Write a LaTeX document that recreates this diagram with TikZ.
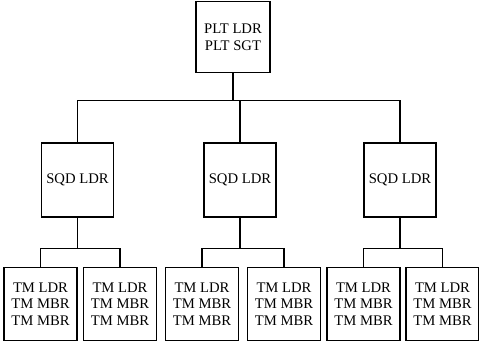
\documentclass[tikz,border=0pt]{standalone}
\usepackage{fontspec}
\setmainfont{Liberation Serif}
\usepackage{tikz}

\begin{document}
\begin{tikzpicture}[x=0.75pt,y=-0.75pt,
  unitbox/.style={draw,line width=1.1pt,align=center,inner sep=1pt,
    font=\fontsize{11}{12.5}\selectfont},
  topbox/.style={unitbox,minimum width=55.5pt,minimum height=53pt},
  sqdbox/.style={unitbox,minimum width=54pt,minimum height=55.5pt},
  tmbox/.style={unitbox,minimum width=55pt,minimum height=55pt},
  link/.style={line width=1.1pt}]
\useasboundingbox (0,0) rectangle (479,343);
% platoon
\node[topbox] (plt) at (233,37) {PLT LDR\\PLT SGT};
% squads
\node[sqdbox] (sqdA) at (77.5,180) {SQD LDR};
\node[sqdbox] (sqdB) at (240,180) {SQD LDR};
\node[sqdbox] (sqdC) at (400,180) {SQD LDR};
% teams
\node[tmbox] (tmA1) at (40.5,304) {TM LDR\\TM MBR\\TM MBR};
\node[tmbox] (tmA2) at (120,304) {TM LDR\\TM MBR\\TM MBR};
\node[tmbox] (tmB1) at (202,304) {TM LDR\\TM MBR\\TM MBR};
\node[tmbox] (tmB2) at (284,304) {TM LDR\\TM MBR\\TM MBR};
\node[tmbox] (tmC1) at (363.5,304) {TM LDR\\TM MBR\\TM MBR};
\node[tmbox] (tmC2) at (442.5,304) {TM LDR\\TM MBR\\TM MBR};
% platoon to squads
\coordinate (bus) at (233,100.5);
\draw[link] (plt.south) -- (bus);
\draw[link] (sqdA.north) |- (bus) -| (sqdC.north);
\draw[link] (sqdB.north) -- (sqdB.north |- bus);
% squads to teams
\draw[link] (sqdA.south) -- ++(0,31) coordinate (jA);
\draw[link] (tmA1.north) |- (jA) -| (tmA2.north);
\draw[link] (sqdB.south) -- ++(0,31) coordinate (jB);
\draw[link] (tmB1.north) |- (jB) -| (tmB2.north);
\draw[link] (sqdC.south) -- ++(0,31) coordinate (jC);
\draw[link] (tmC1.north) |- (jC) -| (tmC2.north);
\end{tikzpicture}
\end{document}
